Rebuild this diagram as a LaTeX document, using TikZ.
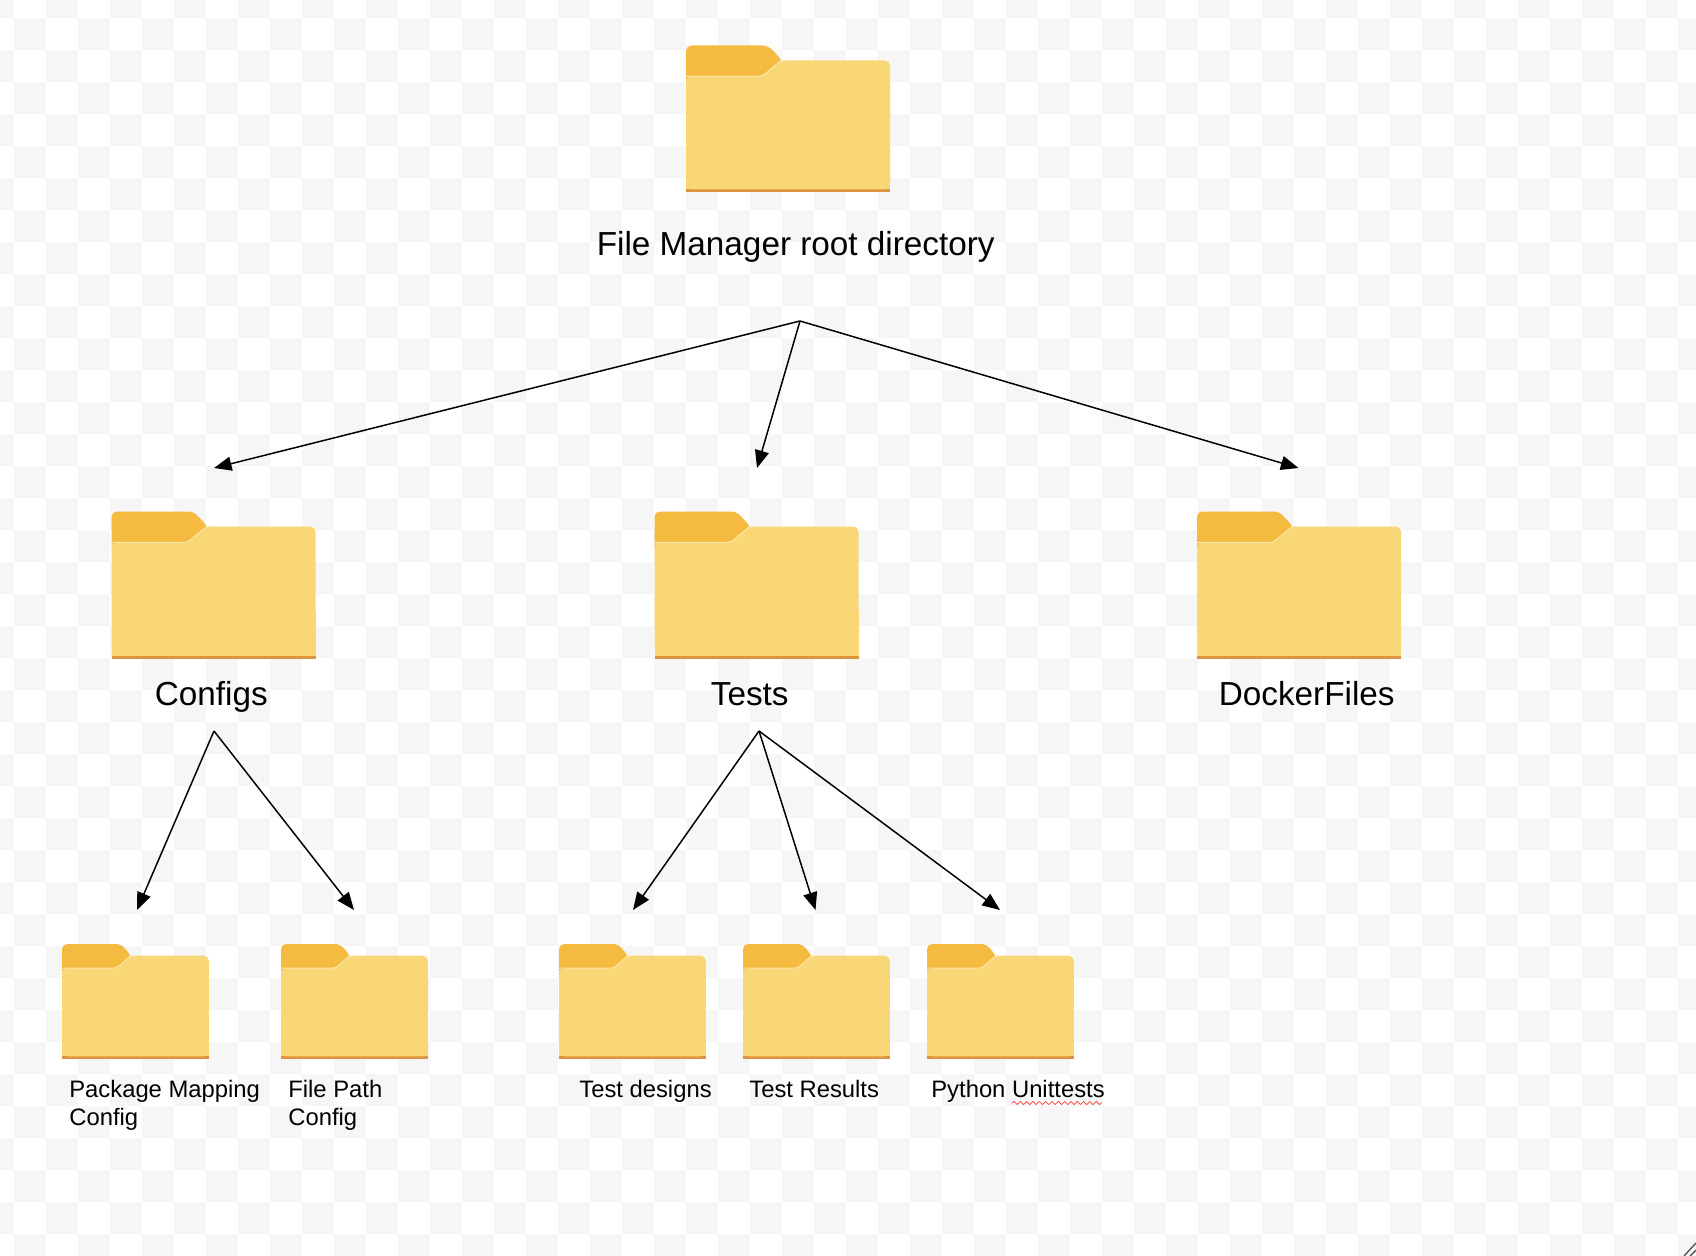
\documentclass[tikz,border=0pt]{standalone}
\usepackage{fontspec}
\setmainfont{Liberation Sans}
\usetikzlibrary{arrows.meta}
\usetikzlibrary{decorations.pathmorphing}

\definecolor{tabcol}{HTML}{F5BA40}
\definecolor{bodycol}{HTML}{F9D776}
\definecolor{seamcol}{HTML}{FBE6A6}
\definecolor{edgecol}{HTML}{DC9440}
\definecolor{checkcol}{HTML}{F6F6F6}

\tikzset{
pics/folder/.style 2 args = {code = {
  \begin{scope}[xscale = #1, yscale = #2]
    \fill[tabcol, rounded corners = 3pt] (0, 40) -- (0, 0) -- (82, 0) -- (96, 15) -- (96, 40) -- cycle;
    \fill[edgecol] (0, 130) rectangle (204, 147);
    \fill[bodycol, rounded corners = 3pt] (0, 144) -- (0, 31) -- (76, 31) -- (95, 15) -- (204, 15) -- (204, 144) -- cycle;
    \fill[bodycol] (0, 100) rectangle (204, 144);
    \draw[seamcol, line width = 0.6pt, rounded corners = 2pt] (0, 31) -- (76, 31) -- (95, 15) -- (100, 15);
  \end{scope}}},
}

\begin{document}
\begin{tikzpicture}[
x = 0.02cm, y = -0.02cm,
biglabel/.style = {font = \fontsize{18.95pt}{22pt}\selectfont, anchor = base west, inner sep = 0},
smalllabel/.style = {font = \fontsize{13.55pt}{16.3pt}\selectfont, anchor = base west, inner sep = 0},
arrow/.style = {-{Stealth[length = 10pt, width = 8pt, inset = 0pt]}, line width = 0.85pt},
]
\useasboundingbox (0, 0) rectangle (1696, 1256);

% checker background
\fill[white] (0, 0) rectangle (1696, 1256);
\begin{scope}
\clip (0, 0) rectangle (1696, 1256);
\foreach \i in {0, ..., 53}
  \foreach \j in {0, ..., 39} {
    \ifodd\numexpr\i + \j\relax\else
      \fill[checkcol] (-18 + 32*\i, -14 + 32*\j) rectangle ++(32, 32);
    \fi
  }
\draw[black!65, line width = 0.8pt] (1696, 1243) -- (1684, 1256);
\draw[black!65, line width = 0.8pt] (1696, 1250) -- (1690, 1256);
\end{scope}

% top level
\pic (root) at (686, 45.5) {folder = {1}{1}};
\node[biglabel] (rootlabel) at (596.5, 256) {File Manager root directory};

\pic (configs) at (111.5, 511.5) {folder = {1}{1}};
\node[biglabel] (configslabel) at (154.5, 705) {Configs};
\pic (tests) at (654.5, 511.5) {folder = {1}{1}};
\node[biglabel] (testslabel) at (710.5, 705) {Tests};
\pic (docker) at (1197, 511.5) {folder = {1}{1}};
\node[biglabel] (dockerlabel) at (1218.5, 705) {DockerFiles};

% bottom level
\pic (mapping) at (62, 944) {folder = {0.72}{0.78}};
\node[smalllabel, align = left, anchor = north west] (mappinglabel) at (69, 1079.5) {Package Mapping\\Config};
\pic (filepath) at (281, 944) {folder = {0.72}{0.78}};
\node[smalllabel, align = left, anchor = north west] (filepathlabel) at (288, 1079.5) {File Path\\Config};
\pic (designs) at (559, 944) {folder = {0.72}{0.78}};
\node[smalllabel] (designslabel) at (579, 1097) {Test designs};
\pic (results) at (743, 944) {folder = {0.72}{0.78}};
\node[smalllabel] (resultslabel) at (749, 1097) {Test Results};
\pic (unittests) at (927, 944) {folder = {0.72}{0.78}};
\node[smalllabel] (unittestslabel) at (931, 1097) {Python Unittests};
\draw[red!75!white, line width = 0.4pt, decorate, decoration = {snake, amplitude = 0.9pt, segment length = 3.6pt}] (1012, 1103) -- (1102, 1103);

% free ends of the arrows
\coordinate (rootfork) at (800, 321);
\coordinate (configstip) at (214, 468);
\coordinate (teststip) at (757, 468);
\coordinate (dockertip) at (1298.5, 468);
\coordinate (configsfork) at (214, 731);
\coordinate (mappingtip) at (137, 910);
\coordinate (filepathtip) at (354, 910);
\coordinate (testsfork) at (759, 731);
\coordinate (designstip) at (633, 910);
\coordinate (resultstip) at (815.5, 910);
\coordinate (unittestslabeltip) at (1000, 910);

\path[arrow] (rootfork) edge (configstip);
\path[arrow] (rootfork) edge (teststip);
\path[arrow] (rootfork) edge (dockertip);
\path[arrow] (configsfork) edge (mappingtip);
\path[arrow] (configsfork) edge (filepathtip);
\path[arrow] (testsfork) edge (designstip);
\path[arrow] (testsfork) edge (resultstip);
\path[arrow] (testsfork) edge (unittestslabeltip);
\end{tikzpicture}
\end{document}
